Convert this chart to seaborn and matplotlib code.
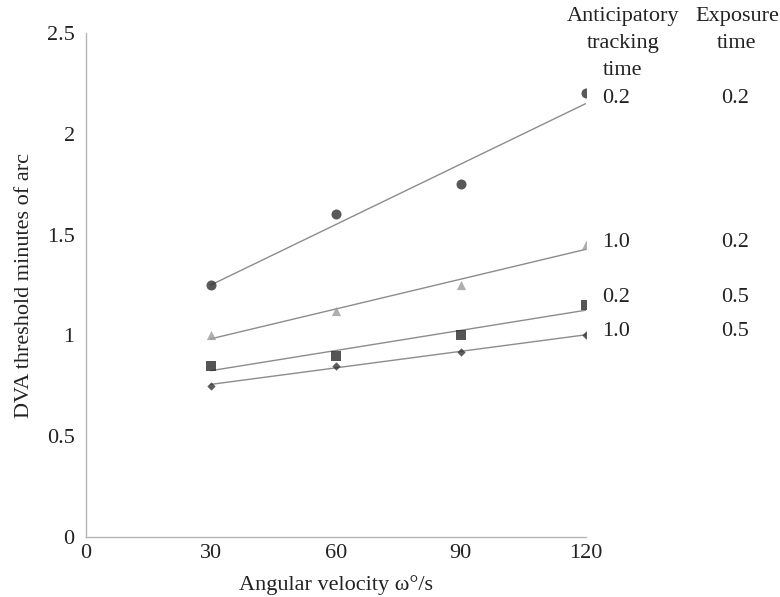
import numpy as np
import pandas as pd
import seaborn as sns
import matplotlib
matplotlib.use("Agg")
import matplotlib.pyplot as plt

# Data
velocity = [30, 60, 90, 120]
circle_vals = [1.25, 1.60, 1.75, 2.20]     # ATT 0.2, exposure 0.2
triangle_vals = [1.00, 1.12, 1.25, 1.45]   # ATT 1.0, exposure 0.2
square_vals = [0.85, 0.90, 1.00, 1.15]     # ATT 0.2, exposure 0.5
diamond_vals = [0.75, 0.85, 0.92, 1.00]    # ATT 1.0, exposure 0.5

att_labels = ["0.2", "1.0", "0.2", "1.0"]
exp_labels = ["0.2", "0.2", "0.5", "0.5"]
x_ticks = [0, 30, 60, 90, 120]
y_ticks = [0, 0.5, 1, 1.5, 2, 2.5]
y_tick_labels = ["0", "0.5", "1", "1.5", "2", "2.5"]

sns.set_style("white")
plt.rcParams['font.family'] = ['Liberation Serif', 'DejaVu Serif']

FS = 16
TC = "#222222"

fig = plt.figure(figsize=(7.8, 5.97), dpi=100)
ax = fig.add_axes([0.110, 0.1005, 0.641, 0.8442])

series = [
    (circle_vals, "o", "#2f2f2f", 52),
    (triangle_vals, "^", "#9a9a9a", 44),
    (square_vals, "s", "#2a2a2a", 48),
    (diamond_vals, "D", "#333333", 18),
]

for vals, mk, col, sz in series:
    df = pd.DataFrame({"x": velocity, "y": vals})
    sns.regplot(data=df, x="x", y="y", ax=ax, ci=None, marker=mk,
                scatter_kws=dict(color=col, s=sz, linewidths=0, zorder=3),
                line_kws=dict(color="#8c8c8c", lw=1.0, zorder=2))

ax.set_xlim(0, 120)
ax.set_ylim(0, 2.5)
ax.set_xticks(x_ticks)
ax.set_xticklabels([str(v) for v in x_ticks])
ax.set_yticks(y_ticks)
ax.set_yticklabels(y_tick_labels)

for s in ["top", "right"]:
    ax.spines[s].set_visible(False)
for s in ["left", "bottom"]:
    ax.spines[s].set_color("#b5b5b5")
    ax.spines[s].set_linewidth(1.0)
ax.tick_params(axis="both", which="both", length=4, width=0.8, color="#b5b5b5",
               labelsize=FS, labelcolor=TC, direction="out", pad=4)
ax.tick_params(axis="x", length=3, pad=2)

ax.set_xlabel("Angular velocity ω°/s", fontsize=FS, color=TC, labelpad=9)
ax.set_ylabel("DVA threshold minutes of arc", fontsize=FS, color=TC, labelpad=9)

# Header and side labels
fig.text(623 / 780, 1 - 7 / 597, "Anticipatory\ntracking\ntime", ha="center", va="top",
         fontsize=FS, color=TC, linespacing=1.57)
fig.text(737 / 780, 1 - 7 / 597, "Exposure\ntime", ha="center", va="top",
         fontsize=FS, color=TC, linespacing=1.57)

row_y = [99, 242, 297, 332]
for yy, a, e in zip(row_y, att_labels, exp_labels):
    fig.text(616 / 780, 1 - yy / 597, a, ha="center", va="center", fontsize=FS, color=TC)
    fig.text(735 / 780, 1 - yy / 597, e, ha="center", va="center", fontsize=FS, color=TC)

fig.savefig("out.png", dpi=100)
